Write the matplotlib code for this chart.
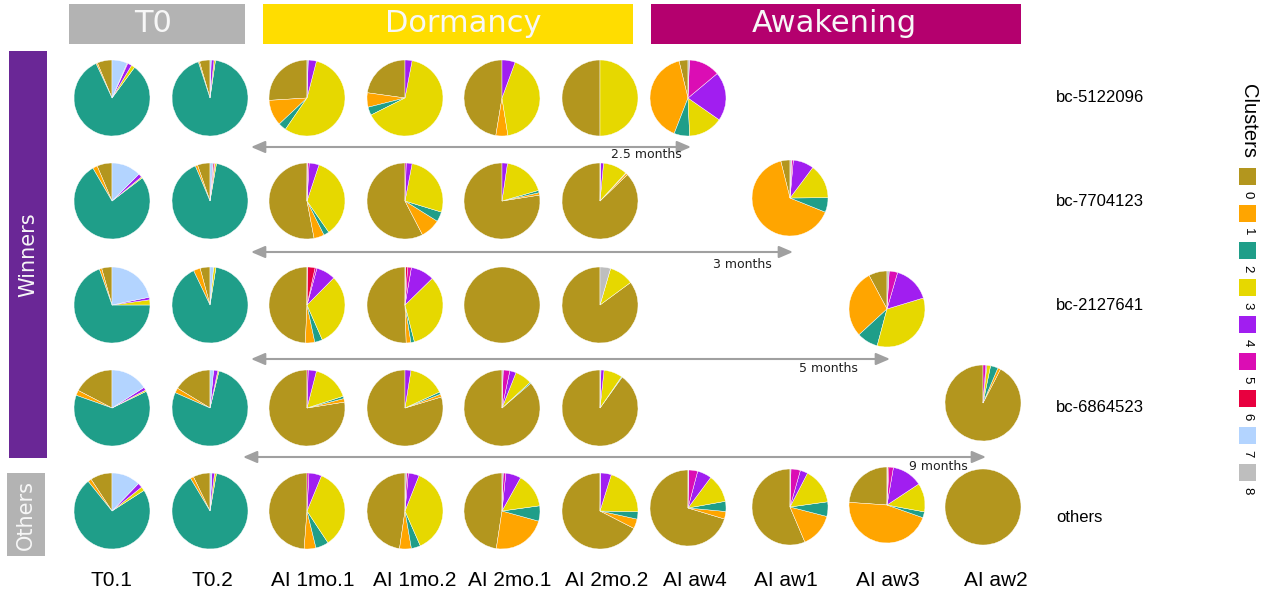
#Pie matrix of barcode cluster composition across T0, dormancy and awakening samples

#%% Imports
import matplotlib
matplotlib.use('Agg')
import matplotlib.pyplot as plt
from matplotlib.patches import Rectangle

#%% Data
clusters = ['0', '1', '2', '3', '4', '5', '6', '7', '8']
cluster_colors = ['#B3961E', '#FFA500', '#1F9E89', '#E6D800', '#A11EF0',
                  '#DB0DB4', '#E8003F', '#B3D4FF', '#BEBEBE']

samples = ['T0.1', 'T0.2', 'AI 1mo.1', 'AI 1mo.2', 'AI 2mo.1', 'AI 2mo.2',
           'AI aw4', 'AI aw1', 'AI aw3', 'AI aw2']
row_names = ['bc-5122096', 'bc-7704123', 'bc-2127641', 'bc-6864523', 'others']
phases = ['T0', 'Dormancy', 'Awakening']
groups = ['Winners', 'Others']
delays = ['2.5 months', '3 months', '5 months', '9 months']

# % of cells in clusters 0..8 per sample, None = barcode not found
bc_5122096 = [
    [6.3, 0.6, 83.0, 1.5, 1.8, 0.3, 0, 6.5, 0],
    [4.5, 0.5, 92.7, 0.6, 1.2, 0, 0, 0.5, 0],
    [26.0, 11.0, 3.4, 55.6, 3.5, 0, 0, 0, 0.5],
    [22.8, 6.1, 3.5, 64.6, 3.0, 0, 0, 0, 0],
    [47.4, 5.1, 0, 41.9, 5.6, 0, 0, 0, 0],
    [50.0, 0, 0, 50.0, 0, 0, 0, 0, 0],
    [3.8, 40.3, 6.6, 14.6, 20.8, 13.3, 0, 0, 0.6],
    None, None, None,
]
bc_7704123 = [
    [6.4, 2.0, 77.0, 0.5, 1.6, 0, 0, 12.5, 0],
    [5.3, 1.0, 90.5, 0.6, 0, 0.3, 0.5, 1.3, 0],
    [53.0, 4.4, 2.3, 35.2, 4.2, 0.8, 0, 0, 0.1],
    [57.6, 8.5, 4.2, 26.7, 2.5, 0.5, 0, 0, 0],
    [77.5, 1.0, 1.0, 18.2, 2.3, 0, 0, 0, 0],
    [87.2, 0.8, 0.2, 10.3, 1.2, 0, 0, 0, 0.3],
    None,
    [3.9, 64.9, 6.2, 14.6, 8.8, 0.6, 0.3, 0, 0.5],
    None, None,
]
bc_2127641 = [
    [4.4, 1.0, 69.6, 2.2, 1.1, 0, 0, 21.7, 0],
    [4.2, 2.9, 90.4, 1.0, 0, 0, 0, 1.5, 0],
    [49.3, 4.0, 3.3, 31.0, 8.2, 0.8, 3.3, 0, 0.1],
    [50.5, 2.0, 1.5, 33.3, 10.0, 1.6, 0.8, 0, 0.3],
    [100.0, 0, 0, 0, 0, 0, 0, 0, 0],
    [85.1, 0, 0, 10.4, 0, 0, 0, 0, 4.5],
    None, None,
    [7.8, 29.0, 9.0, 33.8, 15.8, 3.6, 0, 0, 0.9],
    None,
]
bc_6864523 = [
    [17.4, 2.2, 62.7, 0.6, 1.3, 0, 0, 15.9, 0],
    [16.3, 2.1, 77.8, 0.5, 1.8, 0, 0, 1.5, 0],
    [77.5, 1.5, 1.0, 16.0, 3.5, 0.5, 0, 0, 0],
    [79.7, 1.2, 1.0, 15.6, 2.5, 0, 0, 0, 0],
    [86.3, 0, 0.5, 7.2, 2.7, 2.8, 0, 0, 0.5],
    [90.1, 0, 0.3, 7.9, 1.3, 0, 0, 0, 0.4],
    None, None, None,
    [92.4, 1.2, 3.2, 1.6, 0.4, 1.2, 0, 0, 0],
]
others = [
    [9.3, 1.5, 73.3, 1.7, 2.0, 0, 0, 12.2, 0],
    [7.2, 1.4, 88.7, 0.8, 1.1, 0, 0, 0.8, 0],
    [48.8, 5.0, 5.5, 34.5, 5.4, 0.8, 0, 0, 0],
    [47.7, 5.0, 3.9, 37.4, 4.6, 0.8, 0, 0, 0.6],
    [47.6, 23.1, 6.5, 14.7, 6.5, 1.1, 0, 0, 0.5],
    [67.4, 4.1, 3.1, 20.5, 4.5, 0, 0, 0, 0.3],
    [70.4, 3.2, 4.3, 12.0, 6.1, 3.8, 0, 0, 0.3],
    [56.4, 14.6, 6.2, 15.2, 3.2, 4.0, 0, 0, 0.4],
    [23.9, 45.7, 2.5, 12.2, 13.0, 1.9, 0.5, 0, 0.3],
    [100.0, 0, 0, 0, 0, 0, 0, 0, 0],
]
all_rows = [bc_5122096, bc_7704123, bc_2127641, bc_6864523, others]

#%% Layout (pixel coordinates, y measured from the top)
W, H = 1268, 593
col_x = [112, 210, 307, 405, 502, 600, 688, 790, 887, 983]
row_y = [98, 201, 305, 408, 511]
aw_dy = {(1, 7): -3, (2, 8): 4, (3, 9): -5, (4, 6): -3, (4, 7): -4, (4, 8): -6, (4, 9): -4}
pie_r = 38
label_x = [111, 212, 313, 415, 510, 607, 695, 786, 888, 996]
phase_boxes = [(69, 245, '#B3B3B3'), (263, 633, '#FFDD00'), (651, 1021, '#B4006E')]
phase_text_x = [153, 463, 834]
group_boxes = [(9, 47, 51, 458, '#6A2796'), (7, 45, 473, 556, '#B3B3B3')]
arrow_y = [147, 252, 359, 457]
arrow_x0 = [251, 251, 251, 243]
delay_xy = [(646, 155), (742, 264), (828, 368), (938, 467)]

grey_line = '#A0A0A0'
sans = ['Liberation Sans', 'DejaVu Sans']

fig = plt.figure(figsize=(W / 100, H / 100), dpi=100)
ax = fig.add_axes([0, 0, 1, 1])

def Y(y):
    return H - y

#%% Pies
for r, row in enumerate(all_rows):
    for c, vals in enumerate(row):
        if vals is None:
            continue
        keep = [i for i, v in enumerate(vals) if v > 0]
        cy = row_y[r] + aw_dy.get((r, c), 0)
        ax.pie([vals[i] for i in keep], colors=[cluster_colors[i] for i in keep],
               startangle=90, counterclock=True, center=(col_x[c], Y(cy)),
               radius=pie_r, frame=True,
               wedgeprops=dict(edgecolor='white', linewidth=0.3))

#%% Arrows with delay
for i in range(len(delays)):
    x1 = col_x[6 + i] + 3
    ax.annotate('', xy=(x1, Y(arrow_y[i])), xytext=(arrow_x0[i], Y(arrow_y[i])),
                arrowprops=dict(arrowstyle='<|-|>,head_length=0.7,head_width=0.3',
                                color=grey_line, lw=1.5, shrinkA=0, shrinkB=0,
                                mutation_scale=12))
    ax.text(delay_xy[i][0], Y(delay_xy[i][1]), delays[i], fontsize=9,
            color='#222222', ha='center', va='center', family='DejaVu Sans')

#%% Phase headers
for (x0, x1, col), tx, name in zip(phase_boxes, phase_text_x, phases):
    ax.add_patch(Rectangle((x0, Y(44)), x1 - x0, 40, facecolor=col, edgecolor='none'))
    ax.text(tx, Y(24), name, fontsize=22, color='#F7F7F7',
            ha='center', va='center', family='DejaVu Sans')

#%% Group bars on the left
for (x0, x1, y0, y1, col), name in zip(group_boxes, groups):
    ax.add_patch(Rectangle((x0, Y(y1)), x1 - x0, y1 - y0, facecolor=col, edgecolor='none'))
    ax.text((x0 + x1) / 2, Y((y0 + y1) / 2), name, fontsize=15, color='#F7F7F7',
            rotation=90, ha='center', va='center', family='DejaVu Sans')

#%% Row and sample labels
for r, name in enumerate(row_names):
    ax.text(1056, Y(row_y[r] + (6 if r == 4 else 0)), name, fontsize=12,
            ha='left', va='center', family=sans)
for c, name in enumerate(samples):
    ax.text(label_x[c], Y(580), name, fontsize=15, ha='center', va='center',
            family=sans)

#%% Legend
ax.text(1248, Y(121), 'Clusters', fontsize=14.5, rotation=-90,
        ha='center', va='center', family=sans)
for i, lab in enumerate(clusters):
    top = 168 + 37 * i
    ax.add_patch(Rectangle((1239, Y(top + 17)), 17, 17,
                           facecolor=cluster_colors[i], edgecolor='none'))
    ax.text(1247.5, Y(top + 27), lab, fontsize=9.5, rotation=-90,
            ha='center', va='center', family=sans)

ax.set_xlim(0, W)
ax.set_ylim(0, H)
ax.set_aspect('equal')
ax.axis('off')
plt.savefig('out.png', dpi=100)
